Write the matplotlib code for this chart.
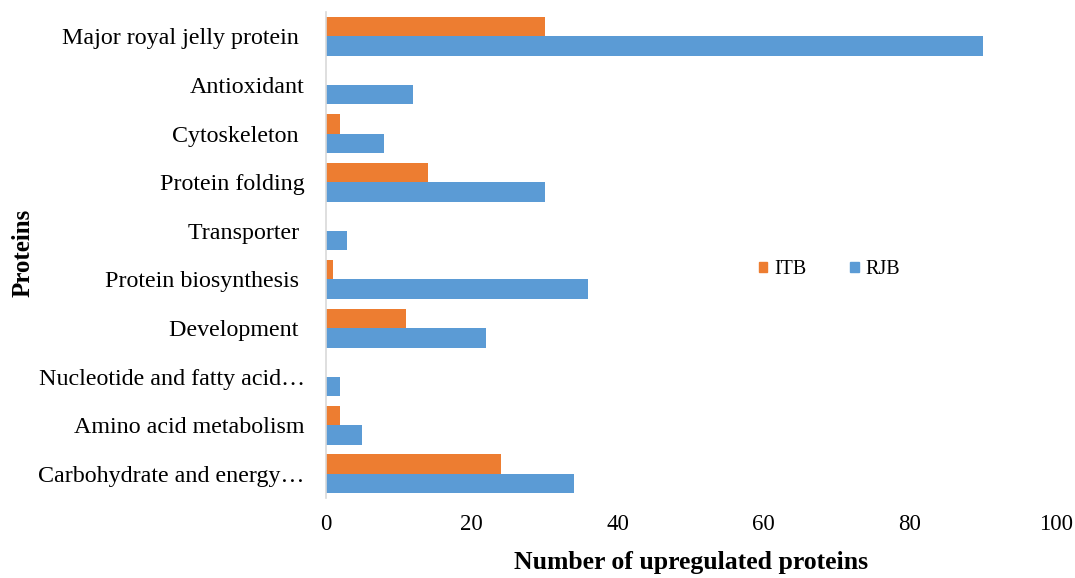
import numpy as np
import matplotlib
matplotlib.use("Agg")
import matplotlib.pyplot as plt
from matplotlib.patches import Patch

plt.rcParams['font.family'] = ['Liberation Serif', 'DejaVu Serif']

# categories from top to bottom
categories = ["Major royal jelly protein ", "Antioxidant", "Cytoskeleton ",
              "Protein folding", "Transporter ", "Protein biosynthesis ",
              "Development ", "Nucleotide and fatty acid\u2026",
              "Amino acid metabolism", "Carbohydrate and energy\u2026"]
itb = [30, 0, 2, 14, 0, 1, 11, 0, 2, 24]
rjb = [90, 12, 8, 30, 3, 36, 22, 2, 5, 34]

orange = "#ED7D31"
blue = "#5B9BD5"

fig = plt.figure(figsize=(10.75, 5.78), dpi=100)
ax = fig.add_axes([0.3028, 0.138, 0.6795, 0.841])

ind = np.arange(len(categories))
h = 0.4
ax.barh(ind - h / 2, itb, h, color=orange, label="ITB")
ax.barh(ind + h / 2, rjb, h, color=blue, label="RJB")

ax.set_ylim(len(categories) - 0.5, -0.5)
ax.set_xlim(0, 100)
ax.set_xticks([0, 20, 40, 60, 80, 100])
ax.set_yticks(ind)
ax.set_yticklabels(categories)
ax.tick_params(axis='y', length=0, pad=15, labelsize=17.3)
ax.tick_params(axis='x', length=0, pad=11, labelsize=16.5)

for s in ["top", "right", "bottom"]:
    ax.spines[s].set_visible(False)
ax.spines["left"].set_color("#d9d9d9")
ax.spines["left"].set_linewidth(1.2)

ax.set_xlabel("Number of upregulated proteins", fontsize=18.5, fontweight="bold", labelpad=12)
ax.set_ylabel("Proteins", fontsize=18, fontweight="bold")
ax.yaxis.set_label_coords(-0.398, 0.505)

handles = [Patch(color=orange, label="ITB"), Patch(color=blue, label="RJB")]
ax.legend(handles=handles, loc="center", bbox_to_anchor=(0.69, 0.47), ncol=2,
          frameon=False, fontsize=14.5, handlelength=0.4, handleheight=0.4,
          columnspacing=2.2, handletextpad=0.35)

fig.savefig("out.png", dpi=100)
